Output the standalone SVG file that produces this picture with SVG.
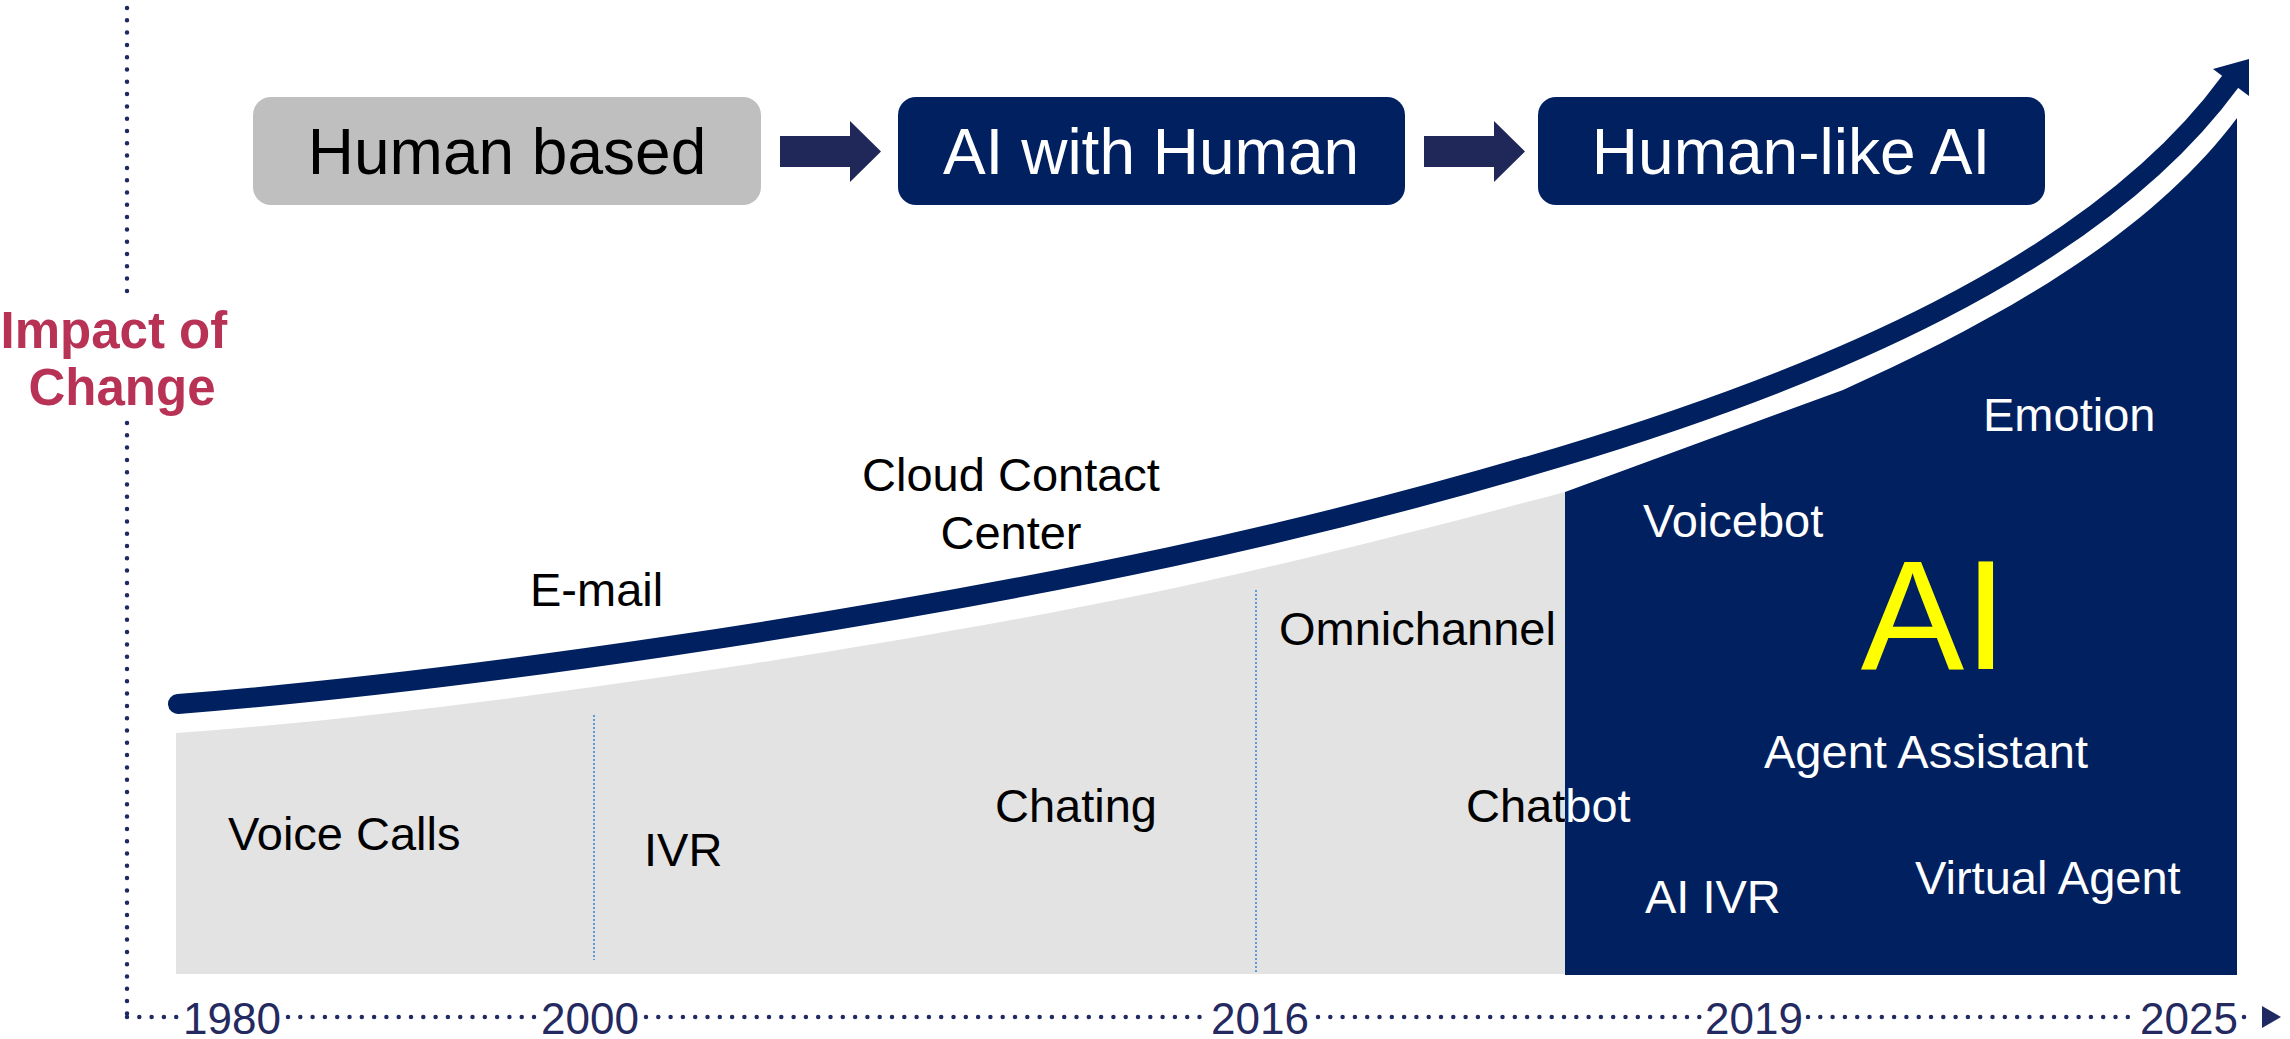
<svg xmlns="http://www.w3.org/2000/svg" width="2290" height="1039" viewBox="0 0 2290 1039">
  <style>
    .lbl { font-family: "Liberation Sans", Arial, sans-serif; font-size: 47px; }
    .dark { fill: #000000; }
    .light { fill: #FFFFFF; }
    .box-text { font-family: "Liberation Sans", Arial, sans-serif; font-size: 64px; text-anchor: middle; }
    .year { font-family: "Liberation Sans", Arial, sans-serif; font-size: 44px; fill: #24295F; text-anchor: middle; }
    .axis { fill: none; stroke: #1F2A63; stroke-width: 4.5; stroke-linecap: round; stroke-dasharray: 0 12.3; }
    .sep { fill: none; stroke: #5B9BD5; stroke-width: 2; stroke-dasharray: 2 2; }
    .navy { fill: #012060; }
    .blockarrow { fill: #1F2858; }
  </style>
  <defs>
    <linearGradient id="chatbotFill" gradientUnits="userSpaceOnUse" x1="0" y1="0" x2="2290" y2="0">
      <stop offset="0.6834" stop-color="#000000"/>
      <stop offset="0.6834" stop-color="#FFFFFF"/>
    </linearGradient>
  </defs>

  <!-- background -->
  <rect x="0" y="0" width="2290" height="1039" fill="#FFFFFF"/>

  <!-- grey era area -->
  <g id="era-grey">
    <path d="M176,733 C342,721 505,700 670,676 C835,652 1022,620 1170,589 C1318,557 1448,523 1565,492 L1565,974 L176,974 Z" fill="#E3E3E3"/>
  </g>

  <!-- navy AI area -->
  <g id="era-ai">
    <path class="navy" d="M1565,492 L1843,390 C1993,322.5 2147,238 2237,118 L2237,975 L1565,975 Z"/>
  </g>

  <!-- separators -->
  <g id="separators">
    <line class="sep" x1="594" y1="715" x2="594" y2="960"/>
    <line class="sep" x1="1256" y1="590" x2="1256" y2="973"/>
  </g>

  <!-- axes -->
  <g id="axes">
    <line class="axis" x1="127" y1="8" x2="127" y2="300"/>
    <line class="axis" x1="127" y1="423" x2="127" y2="1017"/>
    <line class="axis" x1="127" y1="1017" x2="180" y2="1017"/>
    <line class="axis" x1="288" y1="1017" x2="535" y2="1017"/>
    <line class="axis" x1="646" y1="1017" x2="1205" y2="1017"/>
    <line class="axis" x1="1318" y1="1017" x2="1700" y2="1017"/>
    <line class="axis" x1="1808" y1="1017" x2="2134" y2="1017"/>
    <line class="axis" x1="2244" y1="1017" x2="2256" y2="1017"/>
    <polygon points="2262,1006 2281,1017 2262,1028" fill="#1F2A63"/>
    <text class="year" x="232" y="1034">1980</text>
    <text class="year" x="590" y="1034">2000</text>
    <text class="year" x="1260" y="1034">2016</text>
    <text class="year" x="1754" y="1034">2019</text>
    <text class="year" x="2189" y="1034">2025</text>
  </g>

  <!-- axis title -->
  <g id="axis-title">
    <text font-family="Liberation Sans, Arial, sans-serif" font-size="51" font-weight="bold" fill="#B83256" text-anchor="middle">
      <tspan x="121" y="348">Impact of</tspan>
      <tspan x="122" y="405">Change</tspan>
    </text>
  </g>

  <!-- connectors: growth curve and block arrows -->
  <g id="connectors">
    <path d="M178,704 C342,691 505,670.5 670,646 C835,621.5 1022,588.5 1170,557 C1318,525.5 1448,490.3 1560,457 C1810,382 2094,268 2230,82" fill="none" stroke="#012060" stroke-width="20" stroke-linecap="round"/>
    <polygon class="navy" points="2249,59 2213,69 2249,96"/>
    <polygon class="blockarrow" points="780,136 850,136 850,121 881,151.5 850,182 850,167 780,167"/>
    <polygon class="blockarrow" points="1424,136 1494,136 1494,121 1525,151.5 1494,182 1494,167 1424,167"/>
  </g>

  <!-- top stage nodes -->
  <g id="node-human-based">
    <rect x="253" y="97" width="508" height="108" rx="18" fill="#BFBFBF"/>
    <text class="box-text dark" x="507" y="174">Human based</text>
  </g>
  <g id="node-ai-with-human">
    <rect x="898" y="97" width="507" height="108" rx="18" fill="#012060"/>
    <text class="box-text light" x="1151" y="174">AI with Human</text>
  </g>
  <g id="node-human-like-ai">
    <rect x="1538" y="97" width="507" height="108" rx="18" fill="#012060"/>
    <text class="box-text light" x="1791" y="174">Human-like AI</text>
  </g>

  <!-- channel labels -->
  <g id="label-voice-calls"><text class="lbl dark" x="228" y="850">Voice Calls</text></g>
  <g id="label-ivr"><text class="lbl dark" x="644" y="866">IVR</text></g>
  <g id="label-email"><text class="lbl dark" x="530" y="606">E-mail</text></g>
  <g id="label-cloud">
    <text class="lbl dark" text-anchor="middle"><tspan x="1011" y="491">Cloud Contact</tspan><tspan x="1011" y="549">Center</tspan></text>
  </g>
  <g id="label-chating"><text class="lbl dark" x="995" y="822">Chating</text></g>
  <g id="label-omnichannel"><text class="lbl dark" x="1279" y="645">Omnichannel</text></g>
  <g id="label-chatbot"><text class="lbl" x="1466" y="822" fill="url(#chatbotFill)">Chatbot</text></g>
  <g id="label-voicebot"><text class="lbl light" x="1643" y="537">Voicebot</text></g>
  <g id="label-emotion"><text class="lbl light" x="1983" y="431">Emotion</text></g>
  <g id="label-ai"><text font-family="Liberation Sans, Arial, sans-serif" font-size="155" fill="#FFFF00" text-anchor="middle" x="1934" y="669">AI</text></g>
  <g id="label-agent-assistant"><text class="lbl light" x="1764" y="768">Agent Assistant</text></g>
  <g id="label-ai-ivr"><text class="lbl light" x="1645" y="913">AI IVR</text></g>
  <g id="label-virtual-agent"><text class="lbl light" x="1915" y="894">Virtual Agent</text></g>
</svg>
